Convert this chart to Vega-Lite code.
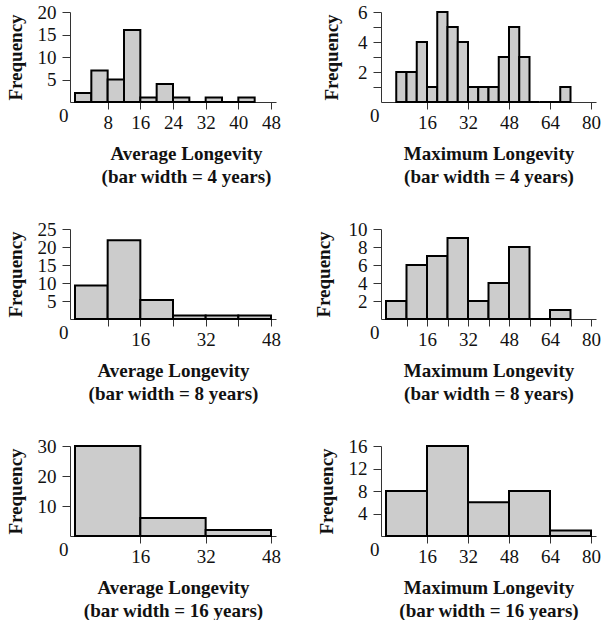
{
  "$schema": "https://vega.github.io/schema/vega-lite/v6.json",
  "background": "white",
  "padding": {"left": 6, "top": 3, "right": 2, "bottom": 0},
  "columns": 2,
  "align": "each",
  "spacing": {"row": 34, "column": 33},
  "config": {
    "view": {"stroke": null},
    "font": "Liberation Serif",
    "axis": {
      "grid": false,
      "domainColor": "#333333",
      "domainWidth": 1,
      "tickColor": "#333333",
      "tickWidth": 1,
      "tickSize": 7,
      "labelFont": "Liberation Serif",
      "labelFontSize": 19,
      "labelColor": "#111111",
      "labelFlush": false,
      "labelOverlap": false,
      "labelBound": false,
      "titleFont": "Liberation Serif",
      "titleFontSize": 19,
      "titleFontWeight": "bold",
      "titleColor": "#111111"
    },
    "axisY": {
      "labelPadding": {"condition": {"test": "datum.value == 0", "value": 2}, "value": 6},
      "labelOffset": {"condition": {"test": "datum.value == 0", "value": 13}, "value": 0},
      "tickSize": {"condition": {"test": "datum.value == 0", "value": 0}, "value": 8},
      "titleAngle": -90,
      "titleAlign": "center",
      "titleBaseline": "middle",
      "titleY": 45
    },
    "axisX": {
      "labelPadding": 4,
      "titleLineHeight": 23,
      "titleBaseline": "alphabetic",
      "titleY": 57
    },
    "bar": {"fill": "#cccccc", "stroke": "#000000", "strokeWidth": 2, "orient": "vertical"}
  },
  "concat": [
    {
      "width": 206, "height": 90,
      "data": {"values": [
        {"start": 0, "end": 4, "count": 2}, {"start": 4, "end": 8, "count": 7},
        {"start": 8, "end": 12, "count": 5}, {"start": 12, "end": 16, "count": 16},
        {"start": 16, "end": 20, "count": 1}, {"start": 20, "end": 24, "count": 4},
        {"start": 24, "end": 28, "count": 1}, {"start": 28, "end": 32, "count": 0},
        {"start": 32, "end": 36, "count": 1}, {"start": 36, "end": 40, "count": 0},
        {"start": 40, "end": 44, "count": 1}
      ]},
      "mark": {"type": "bar"},
      "encoding": {
        "x": {"field": "start", "type": "quantitative", "scale": {"domain": [0, 48], "nice": false},
              "axis": {"values": [8, 16, 24, 32, 40, 48], "title": ["Average Longevity", "(bar width = 4 years)"], "titleX": 116}},
        "x2": {"field": "end"},
        "y": {"field": "count", "type": "quantitative", "scale": {"domain": [0, 20], "nice": false},
              "axis": {"values": [0, 5, 10, 15, 20], "title": "Frequency", "titleX": -55}},
        "y2": {"datum": 0}
      }
    },
    {
      "width": 215, "height": 90,
      "data": {"values": [
        {"start": 4, "end": 8, "count": 2}, {"start": 8, "end": 12, "count": 2},
        {"start": 12, "end": 16, "count": 4}, {"start": 16, "end": 20, "count": 1},
        {"start": 20, "end": 24, "count": 6}, {"start": 24, "end": 28, "count": 5},
        {"start": 28, "end": 32, "count": 4}, {"start": 32, "end": 36, "count": 1},
        {"start": 36, "end": 40, "count": 1}, {"start": 40, "end": 44, "count": 1},
        {"start": 44, "end": 48, "count": 3}, {"start": 48, "end": 52, "count": 5},
        {"start": 52, "end": 56, "count": 3}, {"start": 56, "end": 60, "count": 0},
        {"start": 60, "end": 64, "count": 0}, {"start": 64, "end": 68, "count": 0},
        {"start": 68, "end": 72, "count": 1}
      ]},
      "mark": {"type": "bar"},
      "encoding": {
        "x": {"field": "start", "type": "quantitative", "scale": {"domain": [0, 80], "nice": false},
              "axis": {"values": [16, 32, 48, 64, 80], "title": ["Maximum Longevity", "(bar width = 4 years)"]}},
        "x2": {"field": "end"},
        "y": {"field": "count", "type": "quantitative", "scale": {"domain": [0, 6], "nice": false},
              "axis": {"values": [0, 1, 2, 3, 4, 5, 6], "labelExpr": "datum.value % 2 == 0 ? datum.label : ''", "title": "Frequency", "titleX": -50}},
        "y2": {"datum": 0}
      }
    },
    {
      "width": 206, "height": 90,
      "data": {"values": [
        {"start": 0, "end": 8, "count": 9.3}, {"start": 8, "end": 16, "count": 21.9},
        {"start": 16, "end": 24, "count": 5.3}, {"start": 24, "end": 32, "count": 1},
        {"start": 32, "end": 40, "count": 1}, {"start": 40, "end": 48, "count": 1}
      ]},
      "mark": {"type": "bar"},
      "encoding": {
        "x": {"field": "start", "type": "quantitative", "scale": {"domain": [0, 48], "nice": false},
              "axis": {"values": [8, 16, 24, 32, 40, 48], "labelExpr": "datum.value % 16 == 0 ? datum.label : ''", "title": ["Average Longevity", "(bar width = 8 years)"]}},
        "x2": {"field": "end"},
        "y": {"field": "count", "type": "quantitative", "scale": {"domain": [0, 25], "nice": false},
              "axis": {"values": [0, 5, 10, 15, 20, 25], "title": "Frequency", "titleX": -55}},
        "y2": {"datum": 0}
      }
    },
    {
      "width": 215, "height": 90,
      "data": {"values": [
        {"start": 0, "end": 8, "count": 2}, {"start": 8, "end": 16, "count": 6},
        {"start": 16, "end": 24, "count": 7}, {"start": 24, "end": 32, "count": 9},
        {"start": 32, "end": 40, "count": 2}, {"start": 40, "end": 48, "count": 4},
        {"start": 48, "end": 56, "count": 8}, {"start": 56, "end": 64, "count": 0},
        {"start": 64, "end": 72, "count": 1}
      ]},
      "mark": {"type": "bar"},
      "encoding": {
        "x": {"field": "start", "type": "quantitative", "scale": {"domain": [0, 80], "nice": false},
              "axis": {"values": [8, 16, 24, 32, 40, 48, 56, 64, 72, 80], "labelExpr": "datum.value % 16 == 0 ? datum.label : ''", "title": ["Maximum Longevity", "(bar width = 8 years)"]}},
        "x2": {"field": "end"},
        "y": {"field": "count", "type": "quantitative", "scale": {"domain": [0, 10], "nice": false},
              "axis": {"values": [0, 2, 4, 6, 8, 10], "title": "Frequency", "titleX": -58}},
        "y2": {"datum": 0}
      }
    },
    {
      "width": 206, "height": 90,
      "data": {"values": [
        {"start": 0, "end": 16, "count": 30}, {"start": 16, "end": 32, "count": 6},
        {"start": 32, "end": 48, "count": 2}
      ]},
      "mark": {"type": "bar"},
      "encoding": {
        "x": {"field": "start", "type": "quantitative", "scale": {"domain": [0, 48], "nice": false},
              "axis": {"values": [16, 32, 48], "title": ["Average Longevity", "(bar width = 16 years)"]}},
        "x2": {"field": "end"},
        "y": {"field": "count", "type": "quantitative", "scale": {"domain": [0, 30], "nice": false},
              "axis": {"values": [0, 10, 20, 30], "title": "Frequency", "titleX": -55}},
        "y2": {"datum": 0}
      }
    },
    {
      "width": 215, "height": 90,
      "data": {"values": [
        {"start": 0, "end": 16, "count": 8}, {"start": 16, "end": 32, "count": 16},
        {"start": 32, "end": 48, "count": 6}, {"start": 48, "end": 64, "count": 8},
        {"start": 64, "end": 80, "count": 1}
      ]},
      "mark": {"type": "bar"},
      "encoding": {
        "x": {"field": "start", "type": "quantitative", "scale": {"domain": [0, 80], "nice": false},
              "axis": {"values": [16, 32, 48, 64, 80], "title": ["Maximum Longevity", "(bar width = 16 years)"]}},
        "x2": {"field": "end"},
        "y": {"field": "count", "type": "quantitative", "scale": {"domain": [0, 16], "nice": false},
              "axis": {"values": [0, 4, 8, 12, 16], "title": "Frequency", "titleX": -55}},
        "y2": {"datum": 0}
      }
    }
  ]
}
